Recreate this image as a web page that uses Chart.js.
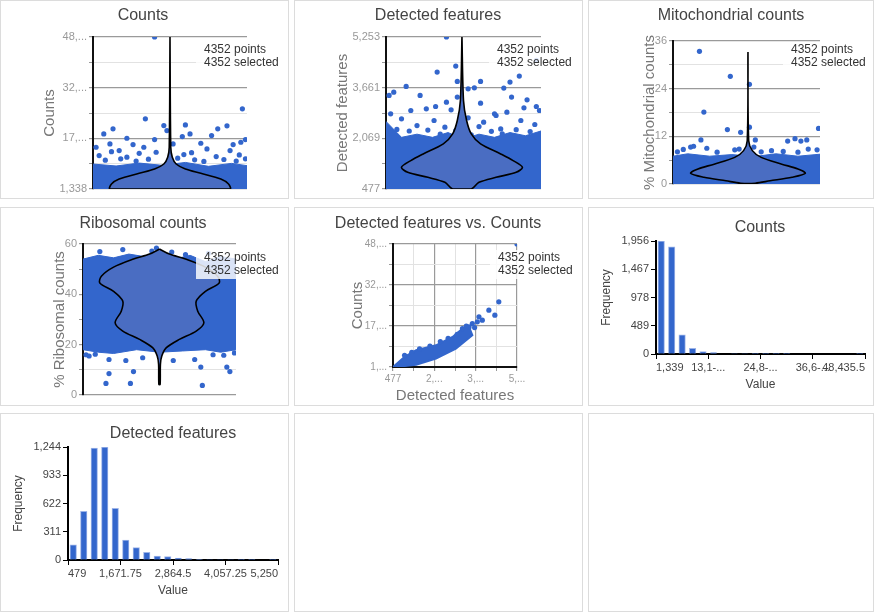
<!DOCTYPE html>
<html><head><meta charset="utf-8">
<script src="https://cdn.jsdelivr.net/npm/chart.js@4.4.1/dist/chart.umd.min.js"></script>
<style>
body{margin:0;background:#fff;width:874px;height:612px;position:relative;overflow:hidden;font-family:"Liberation Sans",Arial,sans-serif}
.panel{position:absolute;border:1px solid #dcdcdc;box-sizing:border-box}
canvas{position:absolute}
.ttl{position:absolute;font-size:16px;color:#444;transform:translate(-50%,-50%);white-space:nowrap}
.info{position:absolute;font-size:12px;color:#333;line-height:13px;background:rgba(255,255,255,0.82);padding:1px 2px 2px 8px;white-space:nowrap}
</style></head><body>
<script>
// ---------- DATA ----------
const countsTicks=[1338,16892,32446,48000], countsTickLabels=["1,338","17,...","32,...","48,..."];
const countsBand=[[0,1338],[1,1338],[1,8500],[0.9,9200],[0.75,8300],[0.6,9500],[0.45,8600],[0.3,9300],[0.15,8400],[0,9000]];
const countsViolin=[[0.5,48000],[0.505,14150],[0.515,11080],[0.54,9020],[0.6,7490],[0.7,6160],[0.83,4415],[0.88,2880],[0.89,1338],[0.11,1338],[0.12,2880],[0.17,4415],[0.3,6160],[0.4,7490],[0.46,9020],[0.485,11080],[0.495,14150],[0.5,48000]];
const countsPoints=[[0.40,48000],[0.97,25950],[0.34,22870],[0.46,20820],[0.60,21020],[0.87,20720],[0.13,19800],[0.07,18250],[0.22,16925],[0.40,16500],[0.99,16500],[0.58,17430],[0.63,18250],[0.77,17740],[0.81,19800],[0.48,19280],[0.02,14150],[0.11,15180],[0.26,14970],[0.33,14150],[0.52,15180],[0.70,15390],[0.91,14970],[0.96,15690],[0.17,13130],[0.41,12620],[0.74,13640],[0.89,13130],[0.04,11600],[0.22,11100],[0.59,11900],[0.80,11300],[0.95,11800],[0.08,10200],[0.18,10600],[0.28,9900],[0.36,10500],[0.5,10100],[0.55,10800],[0.66,10300],[0.72,9800],[0.85,10400],[0.93,9900],[0.99,10600],[0.3,12300],[0.64,12500],[0.12,12800]];

const featTicks=[477,2069,3661,5253], featTickLabels=["477","2,069","3,661","5,253"];
const featBand=[[0,477],[1,477],[1,2300],[0.9,2150],[0.8,2250],[0.7,2100],[0.6,2200],[0.5,2050],[0.4,2250],[0.3,2100],[0.2,2200],[0.1,2100],[0,2600]];
const featViolin=[[0.49,5253],[0.5,3258],[0.52,2629],[0.55,2209],[0.61,1894],[0.74,1579],[0.82,1369],[0.88,1159],[0.84,1002],[0.71,844],[0.6,687],[0.55,477],[0.43,477],[0.38,687],[0.27,844],[0.14,1002],[0.1,1159],[0.16,1369],[0.24,1579],[0.37,1894],[0.43,2209],[0.46,2629],[0.48,3258],[0.49,5253]];
const featPoints=[[0.39,5253],[0.45,4340],[0.33,4150],[0.46,3857],[0.61,3857],[0.97,4518],[0.86,4025],[0.80,3836],[0.76,3647],[0.13,3700],[0.05,3520],[0.02,3416],[0.53,3626],[0.57,3657],[0.81,3364],[0.91,3280],[0.22,3416],[0.32,3070],[0.39,3206],[0.61,3175],[0.46,3364],[0.71,2786],[0.89,3028],[0.97,3070],[0.16,2944],[0.26,2996],[0.42,2965],[0.70,2840],[0.03,2840],[0.78,2891],[0.99,2944],[0.10,2681],[0.31,2629],[0.53,2712],[0.63,2576],[0.87,2629],[0.20,2471],[0.38,2419],[0.60,2440],[0.74,2366],[0.96,2503],[0.07,2350],[0.15,2300],[0.27,2330],[0.45,2310],[0.68,2290],[0.84,2340],[0.93,2280],[0.35,2200],[0.55,2180],[0.75,2210]];

const mitoTicks=[0,12,24,36], mitoTickLabels=["0","12","24","36"];
const mitoBand=[[0,0],[1,0],[1,7.5],[0.85,7],[0.7,7.6],[0.55,6.9],[0.4,7.4],[0.25,7],[0.1,7.6],[0,7]];
const mitoViolin=[[0.51,33.2],[0.515,10.9],[0.54,8.4],[0.6,6.7],[0.74,5],[0.85,3.8],[0.9,2.7],[0.81,1.7],[0.66,0.8],[0.56,0.2],[0.46,0.2],[0.36,0.8],[0.21,1.7],[0.12,2.7],[0.17,3.8],[0.28,5],[0.42,6.7],[0.48,8.4],[0.505,10.9],[0.51,33.2]];
const mitoPoints=[[0.18,33.4],[0.39,27.1],[0.52,25.1],[0.21,18.1],[0.37,13.7],[0.46,13.0],[0.52,14.3],[0.99,14.0],[0.19,11.1],[0.56,11.1],[0.78,10.8],[0.83,11.4],[0.87,10.8],[0.91,11.1],[0.55,9.3],[0.07,8.7],[0.12,9.3],[0.23,9.0],[0.42,8.6],[0.45,8.8],[0.67,8.4],[0.75,8.2],[0.92,8.8],[0.98,8.6],[0.14,9.5],[0.03,8.1],[0.3,8.0],[0.6,8.1],[0.85,8.0]];

const riboTicks=[0,20,40,60], riboTickLabels=["0","20","40","60"];
const riboBand=[[0,18],[0.1,17],[0.2,16.5],[0.35,18],[0.5,17],[0.65,17.5],[0.8,18],[0.9,17],[1,18],[1,54],[0.9,55],[0.8,53],[0.7,55.5],[0.6,54],[0.5,56],[0.4,55],[0.3,56],[0.2,54.5],[0.1,55.5],[0,54]];
const riboViolin=[[0.5,58],[0.565,56],[0.67,54],[0.8,50.8],[0.88,47.2],[0.89,44.5],[0.8,41.2],[0.74,37.3],[0.75,33.3],[0.79,28.7],[0.74,25.4],[0.63,22.1],[0.545,18.8],[0.515,15.5],[0.506,12.2],[0.504,4.2],[0.496,4.2],[0.494,12.2],[0.485,15.5],[0.455,18.8],[0.37,22.1],[0.26,25.4],[0.21,28.7],[0.25,33.3],[0.26,37.3],[0.2,41.2],[0.11,44.5],[0.12,47.2],[0.2,50.8],[0.33,54],[0.435,56],[0.5,58]];
const riboPoints=[[0.15,4.6],[0.17,8.5],[0.31,4.6],[0.33,9.3],[0.78,3.8],[0.77,11.1],[0.94,11.1],[0.96,9.3],[0.48,58.4],[0.26,57.8],[0.28,13.7],[0.17,14.1],[0.59,13.7],[0.85,16],[0.02,16],[0.99,16.7],[0.11,57],[0.67,55.8],[0.39,14.8],[0.04,15.5],[0.73,14.1],[0.08,16.2],[0.92,15.8],[0.45,57.2],[0.58,56.8],[0.82,56.3]];

const scatXTicks=[477,2069,3661,5253], scatXTickLabels=["477","2,...","3,...","5,..."];
const scatYTicks=[1338,16892,32446,48000], scatYTickLabels=["1,...","17,...","32,...","48,..."];
const scatWedge=[[477,1338],[923,5200],[1368,7678],[2133,9580],[2770,12750],[3152,15920],[3406,16550],[3533,13380],[2898,8312],[2133,4508],[1368,2226],[604,1338]];
const scatPoints=[[923,5776],[3725,18460],[3916,19090],[4170,22890],[4400,20990],[4552,26060],[5253,48000],[3533,17830],[3406,16550],[3788,20360],[3152,15920],[3300,16900],[3620,16300],[2950,13700],[2600,12200],[2300,11000],[1900,9300],[1500,8200],[1200,6900]];

const countsBins=[1956,1857,331,99,41,23,8,4,3,2,1,1,1,0,0,0,0,0,0,1];
const countsBinTicks=["1,339","13,1-...","24,8-...","36,6-...","48,435.5"];
const featBins=[166,535,1233,1244,568,218,137,85,44,37,22,15,6,4,3,2,1,1,0,1];
const featBinTicks=["479","1,671.75","2,864.5","4,057.25","5,250"];
const countsFreqTicks=[0,489,978,1467,1956];
const featFreqTicks=[0,311,622,933,1244];
const infoText=["4352 points","4352 selected"];

// ---------- LAYOUT ----------
const BLUE='#3366cc';
const body=document.body;
[[0,0,289,199],[294,0,289,199],[588,0,286,199],[0,207,289,199],[294,207,289,199],[588,207,286,199],[0,413,289,199],[294,413,289,199],[588,413,286,199]].forEach(p=>{
  const d=document.createElement('div');d.className='panel';
  Object.assign(d.style,{left:p[0]+'px',top:p[1]+'px',width:p[2]+'px',height:p[3]+'px'});body.appendChild(d);});
function title(t,x,y){const d=document.createElement('div');d.className='ttl';d.textContent=t;d.style.left=x+'px';d.style.top=y+'px';body.appendChild(d);}
function info(x,y){const d=document.createElement('div');d.className='info';d.innerHTML=infoText.join('<br>');d.style.left=(x-8)+'px';d.style.top=y+'px';body.appendChild(d);}
function canvas(x,y,w,h){const c=document.createElement('canvas');c.width=w;c.height=h;c.style.left=x+'px';c.style.top=y+'px';body.appendChild(c);return c;}
const pts=a=>a.map(p=>({x:p[0],y:p[1]}));
function withMinor(t){const o=[];for(let i=0;i<t.length;i++){o.push(t[i]);if(i<t.length-1)o.push((t[i]+t[i+1])/2);}return o;}
function gridScale(ticks,labels,width,title,titleSize,tickSize){
  const all=withMinor(ticks);
  return {type:'linear',min:ticks[0],max:ticks[ticks.length-1],
    afterBuildTicks:s=>{s.ticks=all.map(v=>({value:v}));},
    afterFit:s=>{if(s.isHorizontal())s.height=width;else s.width=width;},
    ticks:{autoSkip:false,maxRotation:0,color:'#999',font:{size:tickSize||11},padding:2,callback:v=>{const i=ticks.indexOf(v);return i>=0?labels[i]:'';}},
    grid:{color:c=>ticks.indexOf(c.tick&&c.tick.value)>=0?'#9a9a9a':'#e2e2e2',lineWidth:c=>ticks.indexOf(c.tick&&c.tick.value)>=0?1.2:1,tickLength:4,tickColor:'#999'},
    border:{color:'#111',width:2},
    title:{display:true,text:title,color:'#777',font:{size:titleSize},padding:0}};
}
function violin(c,pad,yt,yl,yw,ytitle,tsize,band,vio,pointsArr){
  new Chart(c,{type:'scatter',data:{datasets:[
    {type:'line',data:pts(vio),fill:'shape',backgroundColor:'#4a6dc2',borderColor:'#000',borderWidth:1.6,pointRadius:0,tension:0.3,order:1},
    {data:pts(pointsArr),backgroundColor:BLUE,pointRadius:2.6,borderWidth:0,order:2},
    {type:'line',data:pts(band),fill:'shape',backgroundColor:BLUE,borderColor:BLUE,borderWidth:1,pointRadius:0,order:3}]},
    options:{responsive:false,animation:false,events:[],layout:{padding:pad},
      plugins:{legend:{display:false},tooltip:{enabled:false}},
      scales:{x:{type:'linear',min:0,max:1,display:false},
        y:gridScale(yt,yl,yw,ytitle,tsize)}}});
}
// Row 1
violin(canvas(1,1,287,197),{left:40,right:41,top:36,bottom:9},countsTicks,countsTickLabels,52,'Counts',15,countsBand,countsViolin,countsPoints);
violin(canvas(295,1,287,197),{left:39,right:41,top:36,bottom:9},featTicks,featTickLabels,52,'Detected features',15,featBand,featViolin,featPoints);
violin(canvas(589,1,284,197),{left:52,right:53,top:40,bottom:14},mitoTicks,mitoTickLabels,32,'% Mitochondrial counts',15,mitoBand,mitoViolin,mitoPoints);
// Row 2
violin(canvas(1,208,287,197),{left:50,right:52,top:36,bottom:10},riboTicks,riboTickLabels,32,'% Ribosomal counts',15,riboBand,riboViolin,riboPoints);
new Chart(canvas(295,208,287,197),{type:'scatter',data:{datasets:[
  {data:pts(scatPoints),backgroundColor:BLUE,pointRadius:2.6,borderWidth:0,order:1},
  {type:'line',data:pts(scatWedge),fill:'shape',backgroundColor:BLUE,borderColor:BLUE,borderWidth:2,pointRadius:0,order:2}]},
  options:{responsive:false,animation:false,events:[],layout:{padding:{left:54,right:65,top:36,bottom:0}},
    plugins:{legend:{display:false},tooltip:{enabled:false}},
    scales:{x:gridScale(scatXTicks,scatXTickLabels,38,'Detected features',15,10),
            y:gridScale(scatYTicks,scatYTickLabels,44,'Counts',15,10)}}});
function hist(c,pad,bins,xl,yt){
  new Chart(c,{type:'bar',data:{datasets:[{data:bins.map((v,i)=>({x:i+0.5,y:v})),backgroundColor:BLUE,borderColor:'#9db4e8',borderWidth:{left:1,right:1,top:1,bottom:0},barThickness:6.5}]},
    options:{responsive:false,animation:false,events:[],layout:{padding:pad},
      plugins:{legend:{display:false},tooltip:{enabled:false}},
      scales:{x:{type:'linear',offset:false,min:0,max:20,afterBuildTicks:s=>{s.ticks=[0,5,10,15,20].map(v=>({value:v}));},
          afterFit:s=>{s.height=38;},
          ticks:{autoSkip:false,maxRotation:0,align:'inner',color:'#444',font:{size:11},padding:2,callback:(v)=>xl[v/5]},
          grid:{offset:false,drawOnChartArea:false,color:'#000',tickLength:5},border:{color:'#000',width:2},
          title:{display:true,text:'Value',color:'#444',font:{size:12},padding:0}},
        y:{min:0,max:yt[4],afterBuildTicks:s=>{s.ticks=yt.map(v=>({value:v}));},afterFit:s=>{s.width=57;},
          ticks:{color:'#444',font:{size:11},padding:2,callback:v=>v.toLocaleString('en-US')},
          grid:{drawOnChartArea:false,color:'#000',tickLength:5},border:{color:'#000',width:2},
          title:{display:true,text:'Frequency',color:'#444',font:{size:12},padding:0}}}}});
}
hist(canvas(589,208,284,197),{left:10,right:8,top:33,bottom:13},countsBins,countsBinTicks,countsFreqTicks);
hist(canvas(1,414,287,197),{left:10,right:10,top:33,bottom:13},featBins,featBinTicks,featFreqTicks);

title('Counts',143,15);title('Detected features',438,15);title('Mitochondrial counts',731,15);
title('Ribosomal counts',143,223);title('Detected features vs. Counts',438,223);title('Counts',760,227);
title('Detected features',173,433);
info(204,42);info(497,42);info(791,42);info(204,250);info(498,250);
</script>
</body></html>
